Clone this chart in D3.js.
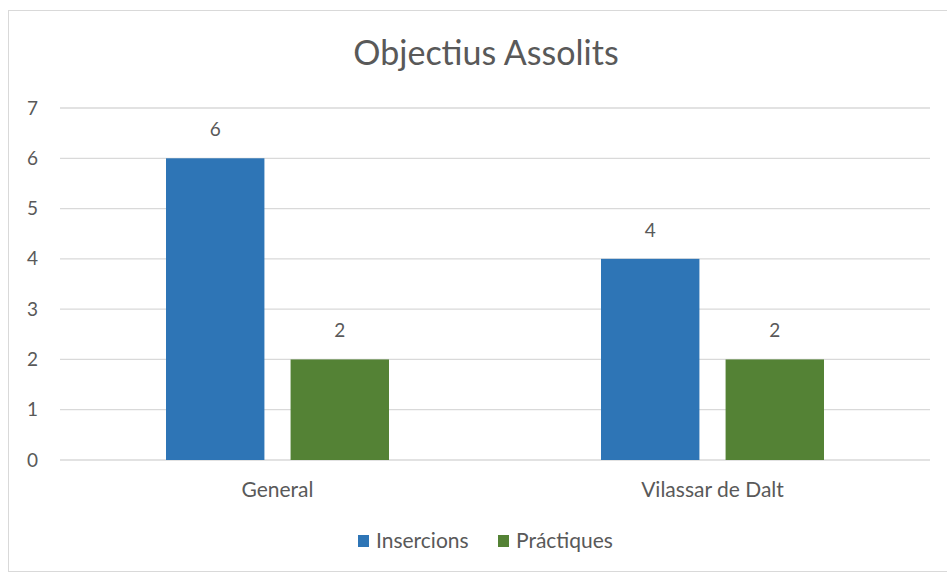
<!DOCTYPE html>
<html>
<head>
<meta charset="utf-8">
<script src="https://cdn.jsdelivr.net/npm/d3@7"></script>
<style>
  body { margin: 0; background: #fff; }
  text { font-family: Lato, "Open Sans", sans-serif; fill: #595959; }
</style>
</head>
<body>
<script>
var categories = ["General", "Vilassar de Dalt"];
var series = ["Insercions", "Práctiques"];
var insercions = [6, 4];
var practiques = [2, 2];
var yTicks = [0, 1, 2, 3, 4, 5, 6, 7];
var colors = ["#2e75b6", "#548235"];

var width = 947, height = 576;
var margin = { top: 108, right: 17, bottom: 116, left: 60 };

var svg = d3.select("body").append("svg").attr("width", width).attr("height", height);

// chart frame
svg.append("rect")
  .attr("x", 8.5).attr("y", 10.5)
  .attr("width", 945).attr("height", 561)
  .attr("fill", "#fff")
  .attr("stroke", "#d9d9d9");

svg.append("text")
  .attr("x", 486).attr("y", 65)
  .attr("text-anchor", "middle")
  .attr("font-size", 34)
  .text("Objectius Assolits");

var y = d3.scaleLinear().domain([0, 7]).range([height - margin.bottom, margin.top]);
var x0 = d3.scaleBand().domain(categories).range([margin.left, width - margin.right]);
var x1 = d3.scaleBand().domain(series).range([106, 329]).paddingInner(0.21);

// gridlines
svg.append("g")
  .selectAll("line")
  .data(yTicks)
  .enter()
  .append("line")
  .attr("x1", margin.left).attr("x2", width - margin.right)
  .attr("y1", d => y(d)).attr("y2", d => y(d))
  .attr("stroke", "#d9d9d9")
  .attr("stroke-width", 1.3);

// y axis labels
var yAxis = svg.append("g")
  .attr("transform", "translate(38,0)")
  .call(d3.axisLeft(y).tickValues(yTicks).tickFormat(d3.format("d")).tickSize(0).tickPadding(0));
yAxis.select(".domain").remove();
yAxis.selectAll("text")
  .attr("font-size", 19)
  .style("font-family", "Lato, sans-serif")
  .attr("fill", "#595959");

var rows = categories.map((c, i) => ({ cat: c, vals: [insercions[i], practiques[i]] }));

var groups = svg.selectAll("g.grp")
  .data(rows)
  .enter()
  .append("g")
  .attr("class", "grp")
  .attr("transform", d => "translate(" + x0(d.cat) + ",0)");

groups.selectAll("rect")
  .data(d => d.vals.map((v, j) => ({ s: series[j], v: v, j: j })))
  .enter()
  .append("rect")
  .attr("x", d => x1(d.s))
  .attr("y", d => y(d.v))
  .attr("width", x1.bandwidth())
  .attr("height", d => y(0) - y(d.v))
  .attr("fill", d => colors[d.j]);

groups.selectAll("text.val")
  .data(d => d.vals.map((v, j) => ({ s: series[j], v: v })))
  .enter()
  .append("text")
  .attr("class", "val")
  .attr("x", d => x1(d.s) + x1.bandwidth() / 2)
  .attr("y", d => y(d.v) - 22)
  .attr("text-anchor", "middle")
  .attr("font-size", 19)
  .text(d => d.v);

// x axis labels
var xAxis = svg.append("g")
  .attr("transform", "translate(0," + (y(0) + 37) + ")")
  .call(d3.axisBottom(x0).tickSize(0).tickPadding(0));
xAxis.select(".domain").remove();
xAxis.selectAll("text")
  .attr("dy", 0)
  .attr("font-size", 21)
  .style("font-family", "Lato, sans-serif")
  .attr("fill", "#595959");

// legend
var legX = [358, 498];
var leg = svg.append("g");
leg.selectAll("rect")
  .data(series)
  .enter()
  .append("rect")
  .attr("x", (d, i) => legX[i])
  .attr("y", 535)
  .attr("width", 11).attr("height", 12)
  .attr("fill", (d, i) => colors[i]);
leg.selectAll("text")
  .data(series)
  .enter()
  .append("text")
  .attr("x", (d, i) => legX[i] + 18)
  .attr("y", 548)
  .attr("font-size", 21)
  .text(d => d);
</script>
</body>
</html>
